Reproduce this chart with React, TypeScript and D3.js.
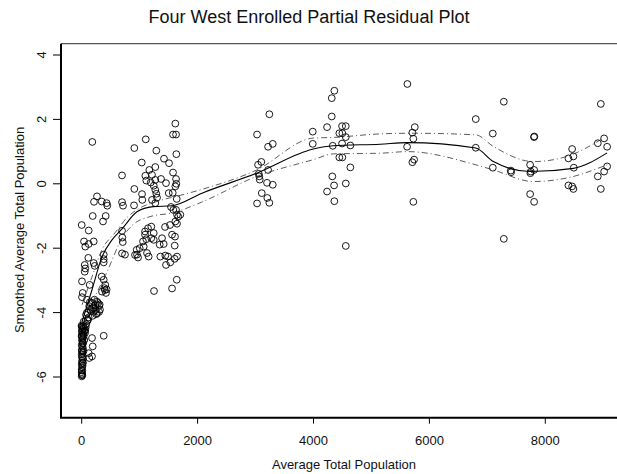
import React from "react";
import * as d3 from "d3";

const title = "Four West Enrolled Partial Residual Plot";
const xLabel = "Average Total Population";
const yLabel = "Smoothed Average Total Population";
const xTicks = [0, 2000, 4000, 6000, 8000];
const yTicks = [4, 2, 0, -2, -4, -6];

// observed points: population (x) and partial residual (y)
const popX = [
  5620, 7284, 8958, 6800, 5748, 5706, 5723, 5615, 7094, 7805, 7810, 8463, 8399, 8485, 8492, 8906, 9015, 9067, 9067, 9015,
  8906, 8958, 5706, 5736, 5723, 6800, 7094, 7405, 7410, 7738, 7743, 7750, 7807, 7738, 7807, 8399, 8463, 8485, 7284,
  4360, 4315, 3238, 4315, 3026, 4234, 3987, 4493, 4557, 4446, 4498, 4557, 3987, 4332, 4493, 4636, 3297, 3216, 3100, 3043,
  3216, 3055, 3065, 3072, 3198, 3297, 3107, 3203, 3238, 3026, 4446, 4498, 4636, 4325, 4355, 4234, 4557, 4360, 4557,
  1616, 1576, 1628, 183, 1105, 908, 1288, 1633, 1036, 1420, 1507, 1270, 1167, 1576, 696, 1098, 1213, 1270, 1369, 1115,
  1191, 1628, 1633, 1616, 1455, 1243, 1270, 908, 1502, 1571, 1041, 1046, 1288, 1300, 264, 212, 696, 713, 442, 903,
  1213, 1270, 1640, 1541, 1581, 190, 414, 368, 0, 121, 696, 701, 708, 40, 121, 62, 207, 114, 380, 696,
  920, 954, 1093, 1093, 1144, 1201, 1243, 1115, 1058, 1201, 1243, 1001, 1070, 1386, 972, 1346, 1415, 1559, 1610, 1605,
  1628, 1645, 1667, 1616, 1645, 1702, 1438, 1524, 1357, 1443, 1490, 1605, 1645, 1127, 1156, 1455, 1529, 1640, 1248, 1559,
  52, 62, 52, 207, 224, 380, 380, 5, 138, 17, 5, 91, 407, 390, 419, 350, 178, 235, 264, 148,
  207, 264, 178, 299, 316, 74, 109, 35, 0, 5, 62, 0, 17, 0, 5, 17, 0, 5, 178, 190,
  178, 380, 121, 131, 949, 747, 345, 380, 431, 345, 400, 430,
  0, 10, 20, 30, 5, 15, 25, 40, 50, 0, 10, 20, 35, 5, 15, 25, 0, 10, 20, 5,
  15, 0, 10, 20, 5, 0, 15, 5, 10, 0, 5, 10, 0, 20, 30, 45, 60, 70, 80, 100,
  120, 90, 130, 160, 200, 240, 280, 310, 300, 250, 190, 140, 220,
];
const residY = [
  3.10, 2.55, 2.48, 2.01, 1.76, 1.59, 1.40, 1.15, 1.56, 1.45, 1.47, 1.08, 0.79, 0.85, 0.50, 1.26, 1.41, 1.15, 0.54, 0.38,
  0.23, -0.16, 0.67, 0.75, -0.56, 1.12, 0.50, 0.41, 0.36, 0.59, 0.33, 0.38, 0.43, -0.32, -0.56, -0.05, -0.08, -0.16, -1.71,
  2.89, 2.66, 2.16, 2.09, 1.53, 1.76, 1.62, 1.79, 1.79, 1.57, 1.57, 1.45, 1.24, 1.18, 1.25, 1.19, 1.24, 1.15, 0.68, 0.59,
  0.43, 0.31, 0.23, 0.13, 0.03, -0.03, -0.29, -0.44, -0.59, -0.61, 0.82, 0.82, 0.51, 0.23, -0.05, -0.24, 0.01, -0.54, -1.93,
  1.87, 1.53, 1.53, 1.30, 1.38, 1.11, 1.03, 0.92, 0.66, 0.78, 0.64, 0.52, 0.43, 0.35, 0.26, 0.25, 0.28, 0.12, 0.15, 0.10,
  0.04, 0.15, 0.00, -0.08, 0.02, -0.06, -0.19, -0.16, -0.29, -0.28, -0.32, -0.50, -0.31, -0.43, -0.39, -0.56, -0.57, -0.68, -0.68, -0.67,
  -0.50, -0.60, -0.47, -0.72, -0.81, -1.00, -1.00, -1.17, -1.28, -1.45, -1.46, -1.67, -1.81, -1.79, -1.87, -1.95, -1.79, -2.30, -2.20, -2.16,
  -2.21, -2.20, -1.48, -1.58, -1.38, -1.33, -1.53, -1.72, -1.79, -1.69, -1.74, -2.00, -1.95, -1.69, -2.29, -1.89, -1.87, -1.58, -1.64, -1.92,
  -0.81, -0.96, -1.02, -1.17, -1.24, -0.96, -1.34, -1.28, -2.26, -2.23, -2.26, -2.33, -2.26, -2.15, -2.26, -2.52, -2.44, -2.98, -3.33, -3.25,
  -2.52, -2.63, -2.73, -2.46, -2.55, -2.34, -2.44, -3.03, -3.14, -3.39, -3.52, -3.60, -3.14, -3.24, -3.39, -3.35, -3.70, -3.76, -3.66, -3.91,
  -3.97, -4.02, -3.86, -3.79, -3.91, -4.07, -4.22, -4.28, -4.43, -4.59, -4.53, -4.74, -4.95, -5.16, -5.36, -5.57, -5.78, -5.93, -4.79, -5.05,
  -5.36, -4.72, -5.26, -5.41, -2.05, -2.20, -2.88, -2.98, -0.60, -0.55, -3.30, -3.28,
  -4.40, -4.45, -4.50, -4.42, -4.55, -4.60, -4.65, -4.48, -4.58, -4.70, -4.75, -4.80, -4.72, -4.85, -4.90, -4.95, -5.00, -5.05, -5.10, -5.20,
  -5.25, -5.30, -5.40, -5.45, -5.50, -5.60, -5.65, -5.70, -5.80, -5.85, -5.90, -5.95, -5.98, -5.55, -5.20, -4.85, -4.62, -4.45, -4.35, -4.25,
  -4.15, -4.00, -3.80, -3.95, -3.85, -3.92, -3.70, -3.75, -3.98, -4.05, -4.10, -3.68, -3.60,
];

// smoothed fit and its band
const fitX = [5, 178, 350, 523, 696, 954, 1231, 1559, 2076, 3020, 3997, 4343, 5149, 5620, 6800, 7104, 7738, 8485, 9067];
const fitY = [-4.29, -3.29, -2.27, -1.74, -1.40, -0.87, -0.71, -0.68, -0.29, 0.33, 1.08, 1.18, 1.23, 1.28, 1.11, 0.69, 0.38, 0.48, 0.96];
const upperX = [5, 178, 350, 575, 799, 1006, 1294, 1697, 2042, 3020, 3997, 4343, 5149, 5723, 6800, 7104, 7795, 8371, 9003];
const upperY = [-3.76, -2.89, -2.05, -1.52, -1.02, -0.75, -0.55, -0.36, -0.19, 0.43, 1.42, 1.44, 1.55, 1.57, 1.52, 1.16, 0.69, 0.85, 1.42];
const lowerX = [5, 178, 431, 713, 885, 1179, 1576, 2042, 3020, 3997, 4343, 5149, 5620, 6800, 7104, 7795, 8371, 9067];
const lowerY = [-4.84, -3.76, -2.76, -1.64, -1.27, -1.02, -0.90, -0.59, 0.23, 0.75, 0.93, 0.95, 1.00, 0.59, 0.43, 0.07, 0.18, 0.59];

const W = 617;
const H = 474;

export default function App() {
  const x = d3.scaleLinear().domain([0, 8000]).range([81.7, 545.3]);
  const y = d3.scaleLinear().domain([-6, 4]).range([377, 55]);
  const xLeft = x.invert(61);
  const xRight = x.invert(640);
  const yTop = y.invert(43.7);
  const yBottom = y.invert(417.7);

  const line = d3
    .line<[number, number]>()
    .x((d) => x(d[0]))
    .y((d) => y(d[1]))
    .curve(d3.curveMonotoneX);

  const fitPath = line(fitX.map((v, i) => [v, fitY[i]] as [number, number])) || "";
  const upPath = line(upperX.map((v, i) => [v, upperY[i]] as [number, number])) || "";
  const loPath = line(lowerX.map((v, i) => [v, lowerY[i]] as [number, number])) || "";

  const font = "'Liberation Sans', Arial, Helvetica, sans-serif";

  return (
    <svg
      width={W}
      height={H}
      style={{ position: "absolute", left: 0, top: 0, background: "#fff" }}
      fontFamily={font}
    >
      <rect x={0} y={0} width={W} height={H} fill="#fff" />
      <text x={309} y={23} textAnchor="middle" fontSize={18} fill="#111">
        {title}
      </text>
      {/* frame */}
      <line x1={x(xLeft)} x2={x(xRight)} y1={y(yTop)} y2={y(yTop)} stroke="#555" strokeWidth={1.2} />
      <line x1={x(xLeft)} x2={x(xLeft)} y1={y(yTop)} y2={y(yBottom)} stroke="#000" strokeWidth={2} />
      <line x1={x(xLeft) - 1} x2={x(xRight)} y1={y(yBottom)} y2={y(yBottom)} stroke="#000" strokeWidth={2} />
      {/* x ticks */}
      {xTicks.map((t) => (
        <g key={"xt" + t}>
          <line x1={x(t)} x2={x(t)} y1={y(yBottom)} y2={y(yBottom) + 6} stroke="#000" strokeWidth={1} />
          <text x={x(t)} y={445} textAnchor="middle" fontSize={13} fill="#111">
            {t}
          </text>
        </g>
      ))}
      {/* y ticks */}
      {yTicks.map((t) => (
        <g key={"yt" + t}>
          <line x1={x(xLeft) - 8} x2={x(xLeft)} y1={y(t)} y2={y(t)} stroke="#000" strokeWidth={1} />
          <text
            transform={`translate(46,${y(t)}) rotate(-90)`}
            textAnchor="middle"
            fontSize={13}
            fill="#111"
          >
            {t}
          </text>
        </g>
      ))}
      <text x={344} y={469} textAnchor="middle" fontSize={13} fill="#111">
        {xLabel}
      </text>
      <text transform={`translate(24,230) rotate(-90)`} textAnchor="middle" fontSize={13} fill="#111">
        {yLabel}
      </text>
      {/* points */}
      {popX.map((v, i) => (
        <circle key={"p" + i} cx={x(v)} cy={y(residY[i])} r={3.4} fill="none" stroke="#000" strokeWidth={0.9} />
      ))}
      {/* smooth and band */}
      <path d={upPath} fill="none" stroke="#333" strokeWidth={0.8} strokeDasharray="6 3 1 3" />
      <path d={loPath} fill="none" stroke="#333" strokeWidth={0.8} strokeDasharray="6 3 1 3" />
      <path d={fitPath} fill="none" stroke="#000" strokeWidth={1.1} />
    </svg>
  );
}
